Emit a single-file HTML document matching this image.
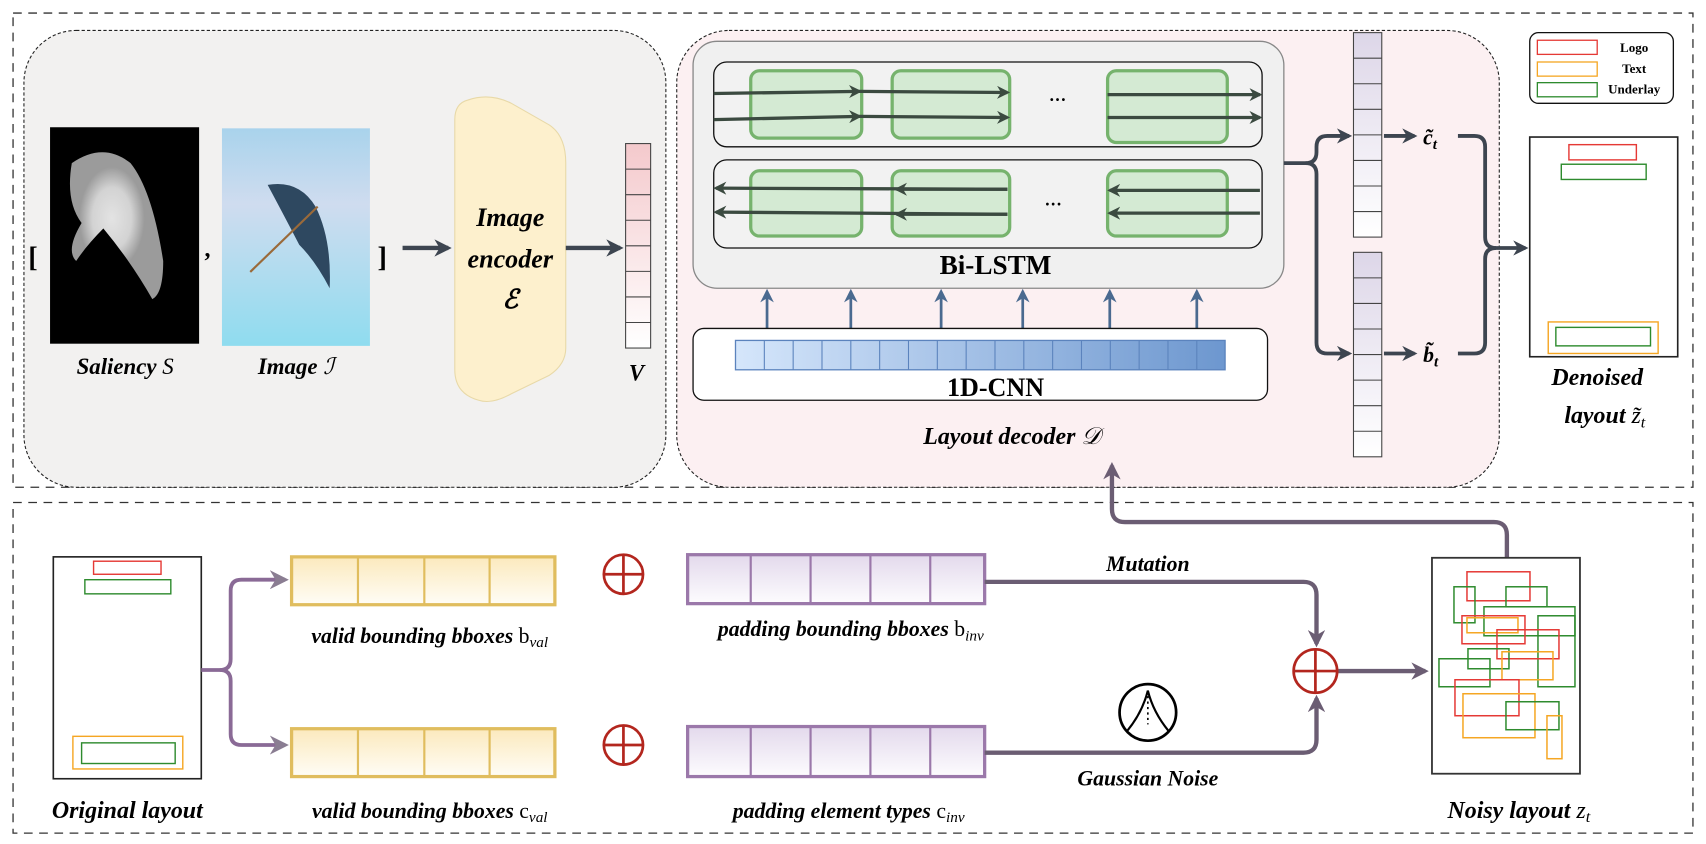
<!DOCTYPE html>
<html><head><meta charset="utf-8"><style>
html,body{margin:0;padding:0;background:#fff;}
svg{display:block}
text{font-family:"Liberation Serif",serif;font-weight:bold;font-style:italic;fill:#000}
</style></head><body>
<svg width="1706" height="844" viewBox="0 0 1568 776" preserveAspectRatio="none" xmlns="http://www.w3.org/2000/svg">
<defs>
<marker id="ad" viewBox="0 0 10 10" refX="8" refY="5" markerWidth="4" markerHeight="4" orient="auto"><path d="M0,0 L10,5 L0,10 L3,5z" fill="#3d4550"/></marker>
<marker id="ap" viewBox="0 0 10 10" refX="8" refY="5" markerWidth="4" markerHeight="4" orient="auto"><path d="M0,0 L10,5 L0,10 L3,5z" fill="#6b5d73"/></marker>
<marker id="au" viewBox="0 0 10 10" refX="8" refY="5" markerWidth="5" markerHeight="5" orient="auto"><path d="M0,0 L10,5 L0,10 L3,5z" fill="#4a6a90"/></marker>
<marker id="ag" viewBox="0 0 10 10" refX="8" refY="5" markerWidth="4" markerHeight="4" orient="auto"><path d="M0,0 L10,5 L0,10 L3,5z" fill="#3b4a40"/></marker>
<marker id="aq" viewBox="0 0 10 10" refX="8" refY="5" markerWidth="5" markerHeight="5" orient="auto"><path d="M0,0 L10,5 L0,10 L3,5z" fill="#8a7d92"/></marker>
<linearGradient id="pink" x1="0" y1="0" x2="0" y2="1"><stop offset="0" stop-color="#f4c9cc"/><stop offset="1" stop-color="#fff"/></linearGradient>
<linearGradient id="lav" x1="0" y1="0" x2="0" y2="1"><stop offset="0" stop-color="#ddd6e8"/><stop offset="1" stop-color="#fff"/></linearGradient>
<linearGradient id="blue" x1="0" y1="0" x2="1" y2="0"><stop offset="0" stop-color="#d5e6fb"/><stop offset="1" stop-color="#6d97cf"/></linearGradient>
<linearGradient id="yel" x1="0" y1="0" x2="0" y2="1"><stop offset="0" stop-color="#fbe9bd"/><stop offset="1" stop-color="#fffdf6"/></linearGradient>
<linearGradient id="pur" x1="0" y1="0" x2="0" y2="1"><stop offset="0" stop-color="#e3d9ec"/><stop offset="1" stop-color="#fdfcfe"/></linearGradient>
<linearGradient id="sky" x1="0" y1="0" x2="0" y2="1"><stop offset="0" stop-color="#a9d3ec"/><stop offset="0.35" stop-color="#cfdcef"/><stop offset="1" stop-color="#8fdcef"/></linearGradient>
<radialGradient id="sal" cx="0.45" cy="0.45" r="0.35"><stop offset="0" stop-color="#f2f2f2"/><stop offset="0.6" stop-color="#bbb"/><stop offset="1" stop-color="#000"/></radialGradient>
</defs>

<!-- outer dashed -->
<rect x="12" y="12" width="1544" height="436" fill="none" stroke="#333" stroke-dasharray="8,6" stroke-width="1.2"/>
<rect x="12" y="462" width="1544" height="304" fill="none" stroke="#333" stroke-dasharray="8,6" stroke-width="1.2"/>

<!-- left gray -->
<rect x="22" y="28" width="590" height="420" rx="48" fill="#f2f1f0" stroke="#222" stroke-dasharray="3,2" stroke-width="1"/>
<rect x="46" y="117" width="137" height="199" fill="#000"/>
<path d="M66,150 Q95,130 120,150 Q140,175 150,240 Q150,270 140,275 Q120,240 95,210 Q80,225 70,240 Q60,230 75,205 Q60,185 66,150z" fill="url(#sal)"/>
<path d="M66,150 Q95,130 120,150 Q140,175 150,240 Q150,270 140,275 Q120,240 95,210 Q80,225 70,240 Q60,230 75,205 Q60,185 66,150z" fill="#ddd" opacity="0.7"/>
<rect x="204" y="118" width="136" height="200" fill="url(#sky)"/>
<path d="M246,170 Q275,165 290,190 Q305,220 303,265 Q290,240 275,225 Q262,200 246,170z" fill="#2e4860"/>
<line x1="292" y1="190" x2="230" y2="250" stroke="#9a6a3a" stroke-width="2"/>
<text x="26" y="245" font-size="26" style="font-style:normal">[</text>
<text x="188" y="236" font-size="22" style="font-style:normal">,</text>
<text x="347" y="245" font-size="26" style="font-style:normal">]</text>
<line x1="370" y1="228" x2="412" y2="228" stroke="#3d4550" stroke-width="4" marker-end="url(#ad)"/>
<text x="115" y="344" font-size="21" text-anchor="middle">Saliency <tspan font-weight="normal">S</tspan></text>
<text x="272" y="344" font-size="21" text-anchor="middle">Image <tspan font-weight="normal">ℐ</tspan></text>
<path d="M430,92 Q450,85 470,95 L505,115 Q520,125 520,150 L520,320 Q520,335 505,345 L470,362 Q452,372 440,368 Q418,362 418,340 L418,110 Q418,95 430,92z" fill="#fdf0cd" stroke="#e8d9a8" stroke-width="1"/>
<text x="469" y="208" font-size="24" text-anchor="middle">Image</text>
<text x="469" y="246" font-size="24" text-anchor="middle">encoder</text>
<text x="469" y="283" font-size="24" text-anchor="middle" font-weight="normal">ℰ</text>
<line x1="520" y1="228" x2="570" y2="228" stroke="#3d4550" stroke-width="4" marker-end="url(#ad)"/>
<rect x="575" y="132" width="23" height="188" fill="url(#pink)" stroke="#444" stroke-width="1"/>
<g stroke="#444" stroke-width="1"><line x1="575" y1="155.5" x2="598" y2="155.5"/><line x1="575" y1="179" x2="598" y2="179"/><line x1="575" y1="202.5" x2="598" y2="202.5"/><line x1="575" y1="226" x2="598" y2="226"/><line x1="575" y1="249.5" x2="598" y2="249.5"/><line x1="575" y1="273" x2="598" y2="273"/><line x1="575" y1="296.5" x2="598" y2="296.5"/></g>
<text x="585" y="350" font-size="21" text-anchor="middle" font-weight="normal">V</text>

<!-- pink decoder -->
<rect x="622" y="28" width="756" height="420" rx="48" fill="#fcf0f2" stroke="#222" stroke-dasharray="3,2" stroke-width="1"/>
<rect x="637" y="38" width="543" height="227" rx="22" fill="#f0f0f0" stroke="#888" stroke-width="1.2"/>
<rect x="656" y="57" width="504" height="78" rx="12" fill="#f2f2f2" stroke="#111" stroke-width="1.2"/>
<rect x="656" y="147" width="504" height="81" rx="12" fill="#f2f2f2" stroke="#111" stroke-width="1.2"/>
<g fill="#d4ead3" stroke="#76b36d" stroke-width="3">
<rect x="690" y="65" width="102" height="62" rx="8"/><rect x="820" y="65" width="108" height="62" rx="8"/><rect x="1018" y="65" width="110" height="66" rx="8"/>
<rect x="690" y="157" width="102" height="60" rx="8"/><rect x="820" y="157" width="108" height="60" rx="8"/><rect x="1018" y="157" width="110" height="60" rx="8"/>
</g>
<g stroke="#3b4a40" stroke-width="3">
<line x1="656" y1="86" x2="790" y2="84" marker-end="url(#ag)"/><line x1="790" y1="84" x2="926" y2="85" marker-end="url(#ag)"/><line x1="1018" y1="87" x2="1158" y2="87" marker-end="url(#ag)"/>
<line x1="656" y1="110" x2="790" y2="107" marker-end="url(#ag)"/><line x1="790" y1="107" x2="926" y2="108" marker-end="url(#ag)"/><line x1="1018" y1="108" x2="1158" y2="108" marker-end="url(#ag)"/>
<line x1="926" y1="174" x2="658" y2="173" marker-end="url(#ag)"/><line x1="926" y1="174" x2="824" y2="174" marker-end="url(#ag)"/><line x1="1158" y1="175" x2="1020" y2="175" marker-end="url(#ag)"/>
<line x1="926" y1="197" x2="658" y2="195" marker-end="url(#ag)"/><line x1="926" y1="197" x2="824" y2="197" marker-end="url(#ag)"/><line x1="1158" y1="196" x2="1020" y2="196" marker-end="url(#ag)"/>
</g>
<text x="972" y="97" font-size="16" text-anchor="middle" style="font-style:normal">···</text>
<text x="968" y="193" font-size="16" text-anchor="middle" style="font-style:normal">···</text>
<text x="915" y="252" font-size="25" text-anchor="middle" style="font-style:normal">Bi-LSTM</text>
<g stroke="#4a6a90" stroke-width="2.5">
<line x1="705" y1="302" x2="705" y2="268" marker-end="url(#au)"/><line x1="782" y1="302" x2="782" y2="268" marker-end="url(#au)"/><line x1="865" y1="302" x2="865" y2="268" marker-end="url(#au)"/><line x1="940" y1="302" x2="940" y2="268" marker-end="url(#au)"/><line x1="1020" y1="302" x2="1020" y2="268" marker-end="url(#au)"/><line x1="1100" y1="302" x2="1100" y2="268" marker-end="url(#au)"/>
</g>
<rect x="637" y="302" width="528" height="66" rx="10" fill="#fff" stroke="#111" stroke-width="1.2"/>
<rect x="676" y="313" width="450" height="27" fill="url(#blue)" stroke="#5b83bd" stroke-width="1.2"/>
<g stroke="#5b83bd" stroke-width="1">
<line x1="702.5" y1="313" x2="702.5" y2="340"/><line x1="729" y1="313" x2="729" y2="340"/><line x1="755.5" y1="313" x2="755.5" y2="340"/><line x1="782" y1="313" x2="782" y2="340"/><line x1="808.5" y1="313" x2="808.5" y2="340"/><line x1="835" y1="313" x2="835" y2="340"/><line x1="861.5" y1="313" x2="861.5" y2="340"/><line x1="888" y1="313" x2="888" y2="340"/><line x1="914.5" y1="313" x2="914.5" y2="340"/><line x1="941" y1="313" x2="941" y2="340"/><line x1="967.5" y1="313" x2="967.5" y2="340"/><line x1="994" y1="313" x2="994" y2="340"/><line x1="1020.5" y1="313" x2="1020.5" y2="340"/><line x1="1047" y1="313" x2="1047" y2="340"/><line x1="1073.5" y1="313" x2="1073.5" y2="340"/><line x1="1100" y1="313" x2="1100" y2="340"/>
</g>
<text x="915" y="364" font-size="24" text-anchor="middle" style="font-style:normal">1D-CNN</text>
<text x="930" y="408" font-size="22" text-anchor="middle">Layout decoder <tspan font-weight="normal">𝒟</tspan></text>

<!-- c, b vectors -->
<rect x="1244" y="30" width="26" height="188" fill="url(#lav)" stroke="#444" stroke-width="1"/>
<g stroke="#444"><line x1="1244" y1="53.5" x2="1270" y2="53.5"/><line x1="1244" y1="77" x2="1270" y2="77"/><line x1="1244" y1="100.5" x2="1270" y2="100.5"/><line x1="1244" y1="124" x2="1270" y2="124"/><line x1="1244" y1="147.5" x2="1270" y2="147.5"/><line x1="1244" y1="171" x2="1270" y2="171"/><line x1="1244" y1="194.5" x2="1270" y2="194.5"/></g>
<rect x="1244" y="232" width="26" height="188" fill="url(#lav)" stroke="#444" stroke-width="1"/>
<g stroke="#444"><line x1="1244" y1="255.5" x2="1270" y2="255.5"/><line x1="1244" y1="279" x2="1270" y2="279"/><line x1="1244" y1="302.5" x2="1270" y2="302.5"/><line x1="1244" y1="326" x2="1270" y2="326"/><line x1="1244" y1="349.5" x2="1270" y2="349.5"/><line x1="1244" y1="373" x2="1270" y2="373"/><line x1="1244" y1="396.5" x2="1270" y2="396.5"/></g>
<g fill="none" stroke="#3d4550" stroke-width="3.5">
<path d="M1180,150 L1200,150 Q1210,150 1210,140 L1210,135 Q1210,125 1220,125 L1240,125" marker-end="url(#ad)"/>
<path d="M1200,150 Q1210,150 1210,160 L1210,315 Q1210,325 1220,325 L1240,325" marker-end="url(#ad)"/>
<line x1="1272" y1="125" x2="1300" y2="125" marker-end="url(#ad)"/>
<line x1="1272" y1="325" x2="1300" y2="325" marker-end="url(#ad)"/>
<path d="M1340,125 L1355,125 Q1365,125 1365,135 L1365,218 Q1365,228 1375,228 L1402,228" marker-end="url(#ad)"/>
<path d="M1340,325 L1355,325 Q1365,325 1365,315 L1365,238 Q1365,228 1375,228"/>
</g>
<text x="1308" y="133" font-size="20" font-weight="normal">c̃<tspan font-size="14" dy="4">t</tspan></text>
<text x="1308" y="333" font-size="20" font-weight="normal">b̃<tspan font-size="14" dy="4">t</tspan></text>

<!-- legend -->
<rect x="1406" y="30" width="132" height="65" rx="8" fill="#fff" stroke="#111" stroke-width="1.2"/>
<rect x="1413" y="37" width="55" height="13" fill="none" stroke="#e53935" stroke-width="1.2"/>
<rect x="1413" y="57" width="55" height="13" fill="none" stroke="#f5a623" stroke-width="1.2"/>
<rect x="1413" y="76" width="55" height="13" fill="none" stroke="#2e8b2e" stroke-width="1.2"/>
<text x="1502" y="48" font-size="12" text-anchor="middle" style="font-style:normal">Logo</text>
<text x="1502" y="67" font-size="12" text-anchor="middle" style="font-style:normal">Text</text>
<text x="1502" y="86" font-size="12" text-anchor="middle" style="font-style:normal">Underlay</text>

<!-- denoised -->
<rect x="1406" y="126" width="136" height="202" fill="#fff" stroke="#222" stroke-width="1.5"/>
<rect x="1442" y="133" width="62" height="14" fill="none" stroke="#e53935" stroke-width="1.3"/>
<rect x="1435" y="151" width="78" height="14" fill="none" stroke="#2e8b2e" stroke-width="1.3"/>
<rect x="1423" y="296" width="101" height="29" fill="none" stroke="#f5a623" stroke-width="1.3"/>
<rect x="1430" y="301" width="87" height="17" fill="none" stroke="#2e8b2e" stroke-width="1.3"/>
<text x="1468" y="354" font-size="22" text-anchor="middle">Denoised</text>
<text x="1475" y="389" font-size="22" text-anchor="middle">layout <tspan font-weight="normal">z̃</tspan><tspan font-size="15" dy="4" font-weight="normal">t</tspan></text>

<!-- bottom -->
<rect x="49" y="512" width="136" height="204" fill="#fff" stroke="#222" stroke-width="1.5"/>
<rect x="86" y="516" width="62" height="12" fill="none" stroke="#e53935" stroke-width="1.3"/>
<rect x="78" y="533" width="79" height="13" fill="none" stroke="#2e8b2e" stroke-width="1.3"/>
<rect x="67" y="677" width="101" height="30" fill="none" stroke="#f5a623" stroke-width="1.3"/>
<rect x="75" y="683" width="86" height="19" fill="none" stroke="#2e8b2e" stroke-width="1.3"/>
<text x="117" y="752" font-size="22" text-anchor="middle">Original layout</text>
<g fill="none" stroke="#8a6a96" stroke-width="3.5">
<path d="M185,616 L202,616 Q212,616 212,606 L212,543 Q212,533 222,533 L262,533" marker-end="url(#aq)"/>
<path d="M202,616 Q212,616 212,626 L212,675 Q212,685 222,685 L262,685" marker-end="url(#aq)"/>
</g>
<g>
<rect x="268" y="512" width="242" height="44" fill="url(#yel)" stroke="#e0bd5e" stroke-width="3"/>
<line x1="329" y1="512" x2="329" y2="556" stroke="#e0bd5e" stroke-width="2"/><line x1="390" y1="512" x2="390" y2="556" stroke="#e0bd5e" stroke-width="2"/><line x1="450" y1="512" x2="450" y2="556" stroke="#e0bd5e" stroke-width="2"/>
<rect x="268" y="670" width="242" height="44" fill="url(#yel)" stroke="#e0bd5e" stroke-width="3"/>
<line x1="329" y1="670" x2="329" y2="714" stroke="#e0bd5e" stroke-width="2"/><line x1="390" y1="670" x2="390" y2="714" stroke="#e0bd5e" stroke-width="2"/><line x1="450" y1="670" x2="450" y2="714" stroke="#e0bd5e" stroke-width="2"/>
</g>
<text x="395" y="591" font-size="20" text-anchor="middle">valid bounding bboxes <tspan font-weight="normal" font-style="normal">b</tspan><tspan font-size="14" dy="4" font-weight="normal">val</tspan></text>
<text x="395" y="752" font-size="20" text-anchor="middle">valid bounding bboxes <tspan font-weight="normal" font-style="normal">c</tspan><tspan font-size="14" dy="4" font-weight="normal">val</tspan></text>
<g fill="none" stroke="#b3261e" stroke-width="2.5">
<circle cx="573" cy="528" r="18"/><line x1="555" y1="528" x2="591" y2="528"/><line x1="573" y1="510" x2="573" y2="546"/>
<circle cx="573" cy="685" r="18"/><line x1="555" y1="685" x2="591" y2="685"/><line x1="573" y1="667" x2="573" y2="703"/>
</g>
<g>
<rect x="632" y="510" width="273" height="45" fill="url(#pur)" stroke="#9b78aa" stroke-width="3"/>
<line x1="690" y1="510" x2="690" y2="555" stroke="#9b78aa" stroke-width="2"/><line x1="745" y1="510" x2="745" y2="555" stroke="#9b78aa" stroke-width="2"/><line x1="800" y1="510" x2="800" y2="555" stroke="#9b78aa" stroke-width="2"/><line x1="855" y1="510" x2="855" y2="555" stroke="#9b78aa" stroke-width="2"/>
<rect x="632" y="668" width="273" height="46" fill="url(#pur)" stroke="#9b78aa" stroke-width="3"/>
<line x1="690" y1="668" x2="690" y2="714" stroke="#9b78aa" stroke-width="2"/><line x1="745" y1="668" x2="745" y2="714" stroke="#9b78aa" stroke-width="2"/><line x1="800" y1="668" x2="800" y2="714" stroke="#9b78aa" stroke-width="2"/><line x1="855" y1="668" x2="855" y2="714" stroke="#9b78aa" stroke-width="2"/>
</g>
<text x="782" y="585" font-size="20" text-anchor="middle">padding bounding bboxes <tspan font-weight="normal" font-style="normal">b</tspan><tspan font-size="14" dy="4" font-weight="normal">inv</tspan></text>
<text x="780" y="752" font-size="20" text-anchor="middle">padding element types <tspan font-weight="normal" font-style="normal">c</tspan><tspan font-size="14" dy="4" font-weight="normal">inv</tspan></text>
<text x="1055" y="525" font-size="20" text-anchor="middle">Mutation</text>
<text x="1055" y="722" font-size="20" text-anchor="middle">Gaussian Noise</text>
<circle cx="1055" cy="655" r="26" fill="#fff" stroke="#000" stroke-width="2.5"/>
<path d="M1036,672 Q1050,655 1055,635 Q1060,655 1074,672" fill="none" stroke="#000" stroke-width="2"/>
<line x1="1055" y1="640" x2="1055" y2="666" stroke="#000" stroke-width="1.5" stroke-dasharray="2,3"/>
<g fill="none" stroke="#6b5d73" stroke-width="4">
<path d="M905,535 L1198,535 Q1210,535 1210,547 L1210,592" marker-end="url(#ap)"/>
<path d="M905,692 L1198,692 Q1210,692 1210,680 L1210,642" marker-end="url(#ap)"/>
<line x1="1230" y1="617" x2="1310" y2="617" marker-end="url(#ap)"/>
<path d="M1385,513 L1385,492 Q1385,480 1373,480 L1034,480 Q1022,480 1022,468 L1022,428" marker-end="url(#ap)"/>
</g>
<g fill="none" stroke="#b3261e" stroke-width="2.5">
<circle cx="1209" cy="617" r="20"/><line x1="1189" y1="617" x2="1229" y2="617"/><line x1="1209" y1="597" x2="1209" y2="637"/>
</g>

<!-- noisy -->
<g transform="scale(0.91909)">
<rect x="1432" y="558" width="148" height="216" fill="#fff" stroke="#333" stroke-width="1.8"/>
<g fill="none" stroke-width="1.5">
<rect x="1467" y="572" width="63" height="29" stroke="#e53935"/>
<rect x="1454" y="587" width="21" height="36" stroke="#2e8b2e"/>
<rect x="1506" y="587" width="41" height="20" stroke="#2e8b2e"/>
<rect x="1484" y="607" width="91" height="29" stroke="#2e8b2e"/>
<rect x="1462" y="616" width="63" height="28" stroke="#e53935"/>
<rect x="1467" y="618" width="51" height="15" stroke="#f5a623"/>
<rect x="1538" y="616" width="37" height="71" stroke="#2e8b2e"/>
<rect x="1497" y="630" width="62" height="29" stroke="#e53935"/>
<rect x="1468" y="649" width="41" height="20" stroke="#2e8b2e"/>
<rect x="1502" y="652" width="51" height="28" stroke="#f5a623"/>
<rect x="1439" y="659" width="51" height="28" stroke="#2e8b2e"/>
<rect x="1455" y="680" width="64" height="36" stroke="#e53935"/>
<rect x="1463" y="694" width="72" height="44" stroke="#f5a623"/>
<rect x="1506" y="702" width="53" height="28" stroke="#2e8b2e"/>
<rect x="1547" y="716" width="15" height="43" stroke="#f5a623"/>
</g>
</g>
<text x="1396" y="752" font-size="22" text-anchor="middle">Noisy layout <tspan font-weight="normal">z</tspan><tspan font-size="15" dy="4" font-weight="normal">t</tspan></text>
</svg>
</body></html>
